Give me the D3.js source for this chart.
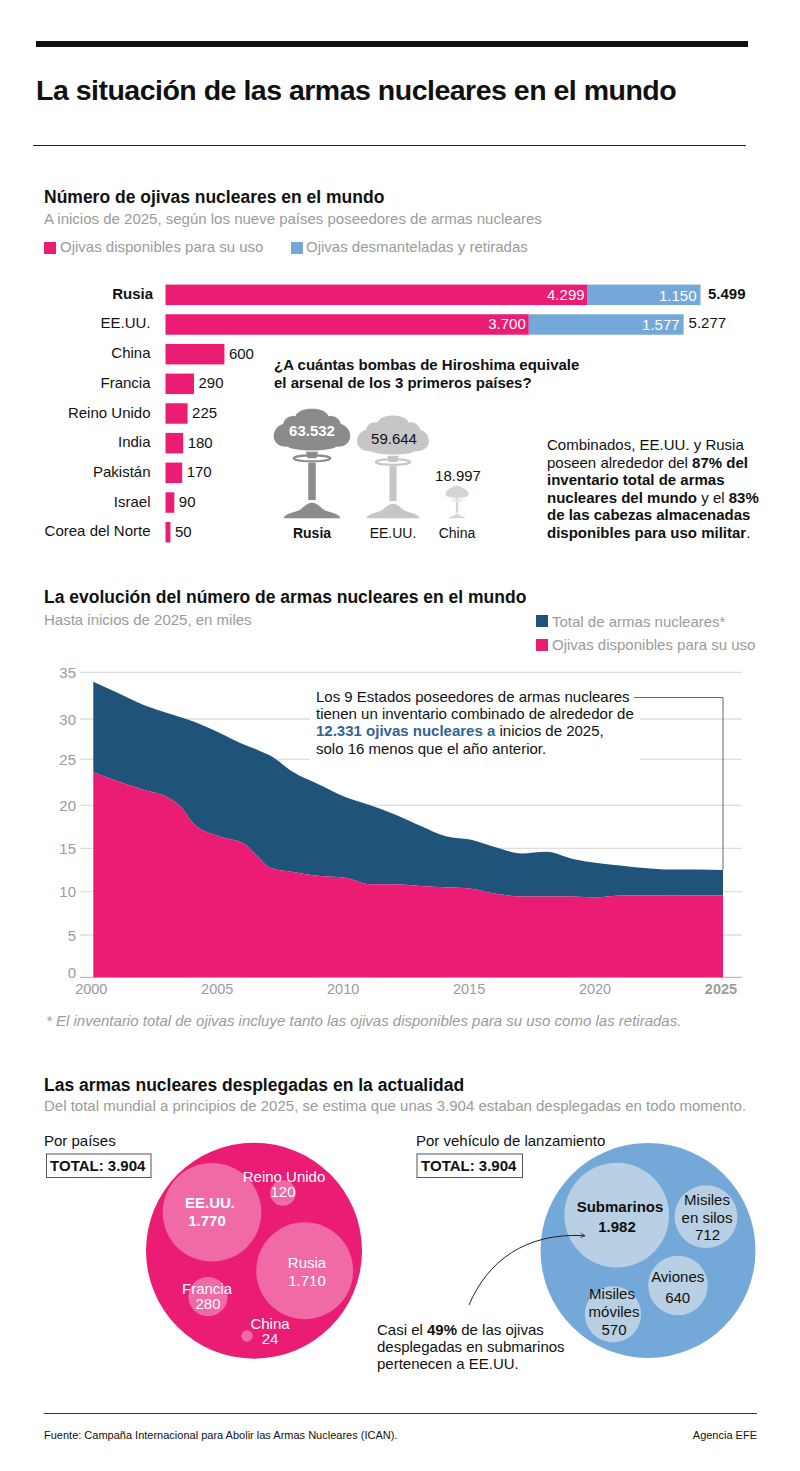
<!DOCTYPE html>
<html><head><meta charset="utf-8">
<script src="https://cdnjs.cloudflare.com/ajax/libs/d3/7.8.5/d3.min.js"></script>
<style>html,body{margin:0;padding:0;background:#fff}svg{display:block}text{font-family:"Liberation Sans",Arial,sans-serif}</style>
</head><body><svg id="c" width="800" height="1471"></svg>
<script>
// ---------- DATA ----------
const barCountries=["Rusia","EE.UU.","China","Francia","Reino Unido","India","Pakistán","Israel","Corea del Norte"];
const barAvailable=[4299,3700,600,290,225,180,170,90,50];
const barRetired=[1150,1577,0,0,0,0,0,0,0];
const barTotalLabels=[5499,5277];
const hiroshimaNames=["Rusia","EE.UU.","China"];
const hiroshimaValues=[63532,59644,18997];
const years=[2000,2001,2002,2003,2003.5,2004,2005,2006,2006.5,2007,2008,2009,2010,2011,2012,2013,2014,2015,2016,2017,2018,2019,2020,2021,2022,2023,2024,2025];
const totalSeries=[34.0,32.75,31.5,30.6,30.15,29.66,28.3,26.8,26.2,25.5,23.5,22.2,20.9,20.0,18.9,17.6,16.4,16.0,15.1,14.4,14.6,13.8,13.3,13.0,12.7,12.55,12.55,12.5];
const availableSeries=[23.6,22.6,21.7,20.8,19.75,17.8,16.4,15.5,14.15,12.8,12.25,11.8,11.6,10.85,10.85,10.65,10.5,10.35,9.75,9.45,9.45,9.45,9.35,9.55,9.55,9.6,9.55,9.6];
const yTicks=[0,5,10,15,20,25,30,35];
const xTicks=[2000,2005,2010,2015,2020,2025];
const countryCircleNames=["EE.UU.","Rusia","Francia","Reino Unido","China"];
const countryCircleValues=[1770,1710,280,120,24];
const vehicleCircleNames=["Submarinos","Misiles en silos","Aviones","Misiles móviles"];
const vehicleCircleValues=[1982,712,640,570];
const deployedTotal=3904;

// ---------- HELPERS ----------
const svg=d3.select("#c");
const PINK="#ea1c74",BLUE="#74a8d8",NAVY="#1f5379",GREY="#9b9b9b",INK="#111";
const fmt=d3.formatLocale({decimal:",",thousands:".",grouping:[3],currency:["","€"]}).format(",");
function txt(x,y,parts,o={}){
  const t=svg.append("text").attr("x",x).attr("y",y)
    .attr("font-size",o.size||15).attr("fill",o.fill||INK)
    .attr("text-anchor",o.anchor||"start");
  if(o.bold)t.attr("font-weight","700");
  if(o.italic)t.attr("font-style","italic");
  if(o.ls)t.attr("letter-spacing",o.ls);
  (Array.isArray(parts)?parts:[parts]).forEach(p=>{
    const s=t.append("tspan").text(typeof p==="string"?p:p.t);
    if(p.b)s.attr("font-weight","700");
    if(p.fill)s.attr("fill",p.fill);
  });
  return t;
}
const sq=(x,y,c)=>svg.append("rect").attr("x",x).attr("y",y).attr("width",12).attr("height",12).attr("fill",c);
const hline=(x1,x2,y,c,w)=>svg.append("line").attr("x1",x1).attr("x2",x2).attr("y1",y).attr("y2",y).attr("stroke",c).attr("stroke-width",w);

// ---------- HEADER ----------
svg.append("rect").attr("x",36).attr("y",41).attr("width",712).attr("height",6).attr("fill","#111");
txt(36,100,"La situación de las armas nucleares en el mundo",{size:28.5,bold:true,ls:-0.5});
hline(33,746,145.5,"#222",1);

// ---------- SECTION 1 ----------
txt(44,203,"Número de ojivas nucleares en el mundo",{size:17.5,bold:true});
txt(44,224,"A inicios de 2025, según los nueve países poseedores de armas nucleares",{fill:GREY});
sq(44,242,PINK);txt(60,252,"Ojivas disponibles para su uso",{fill:GREY});
sq(291,242,BLUE);txt(306,252,"Ojivas desmanteladas y retiradas",{fill:GREY});

const xBar=d3.scaleLinear().domain([0,5449]).range([165.5,700.5]);
const yBar=d3.scaleBand().domain(barCountries).range([284,543]).paddingInner(0.31).paddingOuter(0.02);
barCountries.forEach((c,i)=>{
  const y=yBar(c),h=yBar.bandwidth(),a=barAvailable[i],r=barRetired[i],mid=y+h/2;
  svg.append("rect").attr("x",xBar(0)).attr("y",y).attr("width",xBar(a)-xBar(0)).attr("height",h).attr("fill",PINK);
  txt(i===0?153:150.5,mid+4,c,{anchor:"end",bold:i===0});
  if(r>0){
    svg.append("rect").attr("x",xBar(a)).attr("y",y).attr("width",xBar(a+r)-xBar(a)).attr("height",h).attr("fill",BLUE);
    txt(xBar(a)-3,mid+5,fmt(a),{anchor:"end",fill:"#fff"});
    txt(xBar(a+r)-4,mid+6,fmt(r),{anchor:"end",fill:"#fff"});
    txt(xBar(a+r)+(i===0?7.5:5),mid+(i===0?4.5:3.5),fmt(barTotalLabels[i]),{bold:i===0});
  } else {
    txt(xBar(a)+4.5,mid+4.5,fmt(a));
  }
});

txt(274,370,"¿A cuántas bombas de Hiroshima equivale",{bold:true});
txt(274,388,"el arsenal de los 3 primeros países?",{bold:true});

// mushroom clouds: unit shape drawn upward from (0,0); height scaled by value
const hMush=d3.scaleLinear().domain([0,63532]).range([0,111]);
const cloud="M-.22,-.645 C-.30,-.64 -.345,-.69 -.345,-.74 C-.345,-.80 -.30,-.84 -.26,-.85 C-.25,-.90 -.20,-.93 -.15,-.92 C-.12,-1.01 .12,-1.01 .15,-.92 C.20,-.93 .25,-.90 .26,-.85 C.30,-.84 .345,-.80 .345,-.74 C.345,-.69 .30,-.64 .22,-.645 C.14,-.60 -.14,-.60 -.22,-.645Z";
const cap="M-.055,-.60 L.055,-.60 L.04,-.54 L-.04,-.54Z";
const stalk="M-.034,-.50 L.034,-.50 L.034,-.165 L-.034,-.165Z";
const base="M-.255,0 C-.25,-.04 -.17,-.05 -.12,-.07 C-.08,-.09 -.05,-.14 0,-.14 C.05,-.14 .08,-.09 .12,-.07 C.17,-.05 .25,-.04 .255,0Z";
const mushX=[312,393,457], mushFill=["#8b8b8b","#c6c6c6","#d4d4d4"], mushBase=518.3;
hiroshimaValues.forEach((v,i)=>{
  const H=hMush(v);
  const g=svg.append("g").attr("transform",`translate(${mushX[i]},${mushBase}) scale(${H})`).attr("fill",mushFill[i]);
  [cloud,cap,stalk,base].forEach(d=>g.append("path").attr("d",d));
  g.append("ellipse").attr("cx",0).attr("cy",-.54).attr("rx",.165).attr("ry",.027)
    .attr("fill","none").attr("stroke",mushFill[i]).attr("stroke-width",.02);
});
txt(312,436,fmt(hiroshimaValues[0]),{anchor:"middle",fill:"#fff",bold:true});
txt(394,444,fmt(hiroshimaValues[1]),{anchor:"middle"});
txt(458,481,fmt(hiroshimaValues[2]),{anchor:"middle"});
txt(312,538,hiroshimaNames[0],{anchor:"middle",bold:true,size:14});
txt(393,538,hiroshimaNames[1],{anchor:"middle",size:14});
txt(457,538,hiroshimaNames[2],{anchor:"middle",size:14});

[["Combinados, EE.UU. y Rusia"],
 ["poseen alrededor del ",{t:"87% del",b:1}],
 [{t:"inventario total de armas",b:1}],
 [{t:"nucleares del mundo",b:1}," y el ",{t:"83%",b:1}],
 [{t:"de las cabezas almacenadas",b:1}],
 [{t:"disponibles para uso militar",b:1},"."]
].forEach((l,i)=>txt(547,450+i*17.6,l));

// ---------- SECTION 2 ----------
txt(44,603,"La evolución del número de armas nucleares en el mundo",{size:17.5,bold:true});
txt(44,625,"Hasta inicios de 2025, en miles",{fill:GREY});
sq(536,615,NAVY);txt(552,626.5,"Total de armas nucleares*",{fill:GREY});
sq(536,639,PINK);txt(552,650,"Ojivas disponibles para su uso",{fill:GREY});

const x=d3.scaleLinear().domain([2000,2025]).range([93.3,723]);
const y=d3.scaleLinear().domain(yTicks).range([977.3,935,891.7,848.3,805.3,759.3,719,672.3]);
yTicks.forEach(t=>{
  hline(80,742,y(t),t===0?"#bdbdbd":"#dedede",1.3);
  txt(76,t===0?y(t)+1:y(t)+5.5,String(t),{anchor:"end",fill:GREY});
});
const curve=d3.curveMonotoneX;
const pts=years.map((yr,i)=>({yr,t:totalSeries[i],a:availableSeries[i]}));
svg.append("path").datum(pts).attr("fill",NAVY)
  .attr("d",d3.area().x(d=>x(d.yr)).y0(d=>y(d.a)).y1(d=>y(d.t)).curve(curve));
svg.append("path").datum(pts).attr("fill",PINK)
  .attr("d",d3.area().x(d=>x(d.yr)).y0(y(0)).y1(d=>y(d.a)).curve(curve));
xTicks.forEach(t=>{
  txt(x(t)-2,y(0)+16.5,String(t),{anchor:"middle",fill:GREY,size:14.5,bold:t===2025});
});
svg.append("rect").attr("x",310).attr("y",686).attr("width",330).attr("height",78).attr("fill","#fff");
svg.append("path").attr("d",`M634,697.5 H${x(2025)} V${y(totalSeries[totalSeries.length-1])}`).attr("fill","none").attr("stroke","#666").attr("stroke-width",1);
["Los 9 Estados poseedores de armas nucleares","tienen un inventario combinado de alrededor de"].forEach((l,i)=>txt(316,702+i*17.2,l));
txt(316,736.4,[{t:"12.331 ojivas nucleares a",b:1,fill:"#2f6592"}," inicios de 2025,"]);
txt(316,753.6,"solo 16 menos que el año anterior.");
txt(46,1026,"* El inventario total de ojivas incluye tanto las ojivas disponibles para su uso como las retiradas.",{italic:true,fill:GREY});

// ---------- SECTION 3 ----------
txt(44,1091,"Las armas nucleares desplegadas en la actualidad",{size:17.5,bold:true});
txt(44,1111,"Del total mundial a principios de 2025, se estima que unas 3.904 estaban desplegadas en todo momento.",{fill:GREY});
txt(44,1146,"Por países");
txt(416,1146,"Por vehículo de lanzamiento");
[[46.5,104.5],[417,105.5]].forEach(([bx,bw])=>{
  svg.append("rect").attr("x",bx).attr("y",1154).attr("width",bw).attr("height",23.5).attr("fill","#fff").attr("stroke","#555").attr("stroke-width",1);
  txt(bx+bw/2-1,1171,"TOTAL: "+fmt(deployedTotal),{anchor:"middle",bold:true});
});

// pink pack
const rPink=d3.scaleSqrt().domain([0,1770]).range([0,49.3]);
const pinkCentres=[[212,1212.3],[304.7,1270.7],[208,1296.7],[283,1193],[247,1336]];
svg.append("circle").attr("cx",254).attr("cy",1250.7).attr("r",108).attr("fill",PINK);
countryCircleValues.forEach((v,i)=>svg.append("circle").attr("cx",pinkCentres[i][0]).attr("cy",pinkCentres[i][1]).attr("r",rPink(v)).attr("fill","#f06aa6"));
const W="#fff";
txt(210,1208,countryCircleNames[0],{anchor:"middle",fill:W,bold:true});
txt(207,1226,fmt(countryCircleValues[0]),{anchor:"middle",fill:W,bold:true});
txt(307,1268,countryCircleNames[1],{anchor:"middle",fill:W});
txt(307,1286,fmt(countryCircleValues[1]),{anchor:"middle",fill:W});
txt(207,1294,countryCircleNames[2],{anchor:"middle",fill:W});
txt(208,1309,fmt(countryCircleValues[2]),{anchor:"middle",fill:W});
txt(284,1182,countryCircleNames[3],{anchor:"middle",fill:W});
txt(283,1197,fmt(countryCircleValues[3]),{anchor:"middle",fill:W});
txt(270,1329,countryCircleNames[4],{anchor:"middle",fill:W});
txt(270,1344,fmt(countryCircleValues[4]),{anchor:"middle",fill:W});

// blue pack
const rBlue=d3.scaleSqrt().domain([0,1982]).range([0,52.4]);
const blueCentres=[[616.7,1215.2],[706,1216.7],[678,1285.5],[613,1314.3]];
svg.append("circle").attr("cx",648).attr("cy",1250.5).attr("r",107.5).attr("fill",BLUE);
vehicleCircleValues.forEach((v,i)=>svg.append("circle").attr("cx",blueCentres[i][0]).attr("cy",blueCentres[i][1]).attr("r",rBlue(v)).attr("fill","#b9cfe3"));
txt(620,1212,vehicleCircleNames[0],{anchor:"middle",bold:true});
txt(617,1232,fmt(vehicleCircleValues[0]),{anchor:"middle",bold:true});
txt(707,1204.5,"Misiles",{anchor:"middle"});
txt(707,1222.5,"en silos",{anchor:"middle"});
txt(707.5,1240,fmt(vehicleCircleValues[1]),{anchor:"middle"});
txt(677.7,1282,"Aviones",{anchor:"middle"});
txt(677.7,1302.5,fmt(vehicleCircleValues[2]),{anchor:"middle"});
txt(612,1298.5,"Misiles",{anchor:"middle"});
txt(614,1316.5,"móviles",{anchor:"middle"});
txt(614,1335,fmt(vehicleCircleValues[3]),{anchor:"middle"});

// callout
svg.append("defs").append("marker").attr("id","ah").attr("viewBox","0 0 8 8").attr("refX",7).attr("refY",4)
  .attr("markerWidth",6).attr("markerHeight",6).attr("orient","auto")
  .append("path").attr("d","M1,1 L7,4 L1,7").attr("fill","none").attr("stroke","#222").attr("stroke-width",1);
svg.append("path").attr("d","M469,1305 C487,1262 525,1232 585,1235.7").attr("fill","none").attr("stroke","#222").attr("stroke-width",1).attr("marker-end","url(#ah)");
txt(377,1335,["Casi el ",{t:"49%",b:1}," de las ojivas"]);
txt(377,1352,"desplegadas en submarinos");
txt(377,1369,"pertenecen a EE.UU.");

// ---------- FOOTER ----------
hline(44,757,1413.5,"#333",1);
txt(44,1439,"Fuente: Campaña Internacional para Abolir las Armas Nucleares (ICAN).",{size:11});
txt(757,1439,"Agencia EFE",{size:11,anchor:"end"});
</script></body></html>
